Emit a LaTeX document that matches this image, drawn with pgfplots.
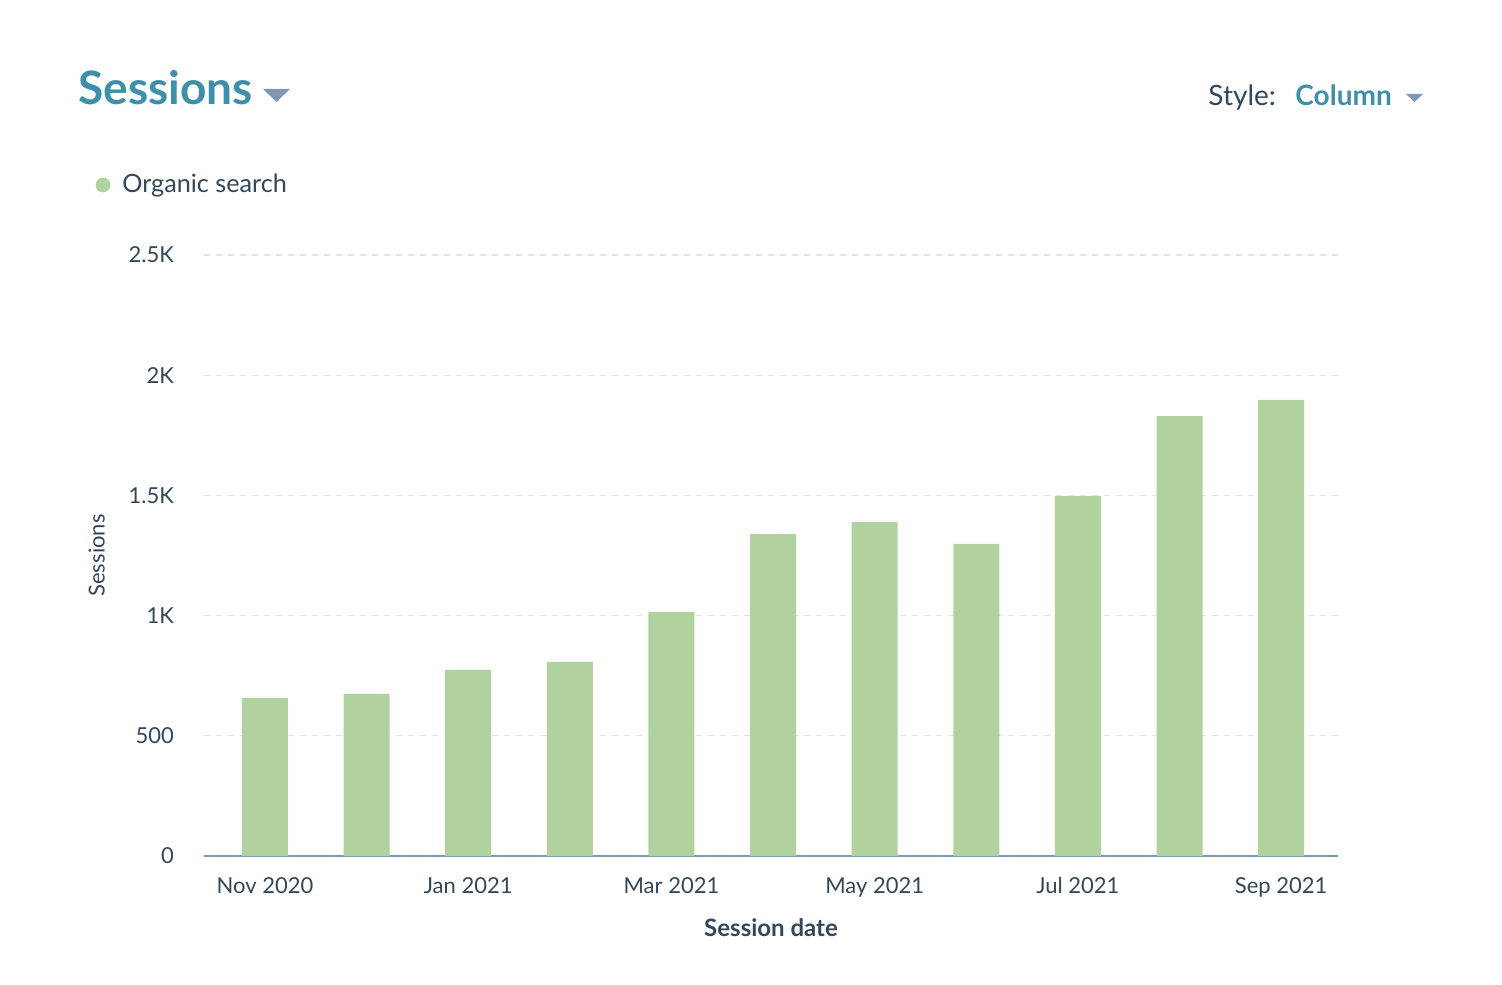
\documentclass[border=0pt]{standalone}
\usepackage{pgfplots}
\pgfplotsset{compat=1.18}
\usepackage{fontspec}
\setmainfont{Lato}
\definecolor{barcol}{HTML}{B0D29E}
\definecolor{txt}{HTML}{33475B}
\definecolor{teal}{HTML}{3E8FAA}
\definecolor{axcol}{HTML}{7C98B6}
\definecolor{gridc}{HTML}{DFE3EB}
\begin{document}
\begin{tikzpicture}
\useasboundingbox[fill=white] (0pt,0pt) rectangle (751pt,492pt);
% header
\node[anchor=base west,font=\fontsize{23}{25}\selectfont\bfseries,text=teal,inner sep=0] at (39pt,439.5pt) {Sessions};
\fill[axcol] (131.5pt,447.5pt) -- (145pt,447.5pt) -- (138.25pt,441pt) -- cycle;
\node[anchor=base west,font=\fontsize{14}{16}\selectfont,text=txt,inner sep=0] at (604pt,439pt) {Style:};
\node[anchor=base west,font=\fontsize{14}{16}\selectfont\bfseries,text=teal,inner sep=0] at (647.5pt,439pt) {Column};
\fill[axcol] (703pt,445pt) -- (711.5pt,445pt) -- (707.25pt,441pt) -- cycle;
% legend
\fill[barcol] (51.5pt,399.5pt) circle (3.7pt);
\node[anchor=base west,font=\fontsize{12.6}{14}\selectfont,text=txt,inner sep=0] at (61pt,395.5pt) {Organic search};
\begin{axis}[
    at={(102pt,64pt)}, anchor=south west,
    scale only axis,
    width=567pt, height=300.5pt,
    xmin=-0.6, xmax=10.56,
    ymin=0, ymax=2500,
    axis x line*=bottom,
    axis y line*=left,
    x axis line style={axcol, line width=1pt, -},
    y axis line style={draw=none},
    ytick={0,500,1000,1500,2000,2500},
    yticklabels={0,500,1K,1.5K,2K,2.5K},
    ymajorgrids,
    grid style={gridc, dashed, line width=0.6pt},
    xtick={0,2,4,6,8,10},
    xticklabels={Nov 2020,Jan 2021,Mar 2021,May 2021,Jul 2021,Sep 2021},
    major tick length=0pt,
    tick label style={font=\fontsize{11}{13}\selectfont, text=txt},
    yticklabel style={xshift=-11.5pt},
    xticklabel style={yshift=-7pt},
    /pgf/number format/assume math mode=true,
    xlabel={\bfseries Session date},
    xlabel style={font=\fontsize{12}{14}\selectfont, text=txt, yshift=-4pt},
    ylabel={Sessions},
    ylabel style={font=\fontsize{11}{13}\selectfont, text=txt, yshift=5pt},
]
\addplot[ybar, bar width=23pt, fill=barcol, draw=none] coordinates {
(0,657) (1,674) (2,774) (3,807) (4,1015) (5,1339)
(6,1389) (7,1298) (8,1497) (9,1830) (10,1897)};
\end{axis}
\end{tikzpicture}
\end{document}
